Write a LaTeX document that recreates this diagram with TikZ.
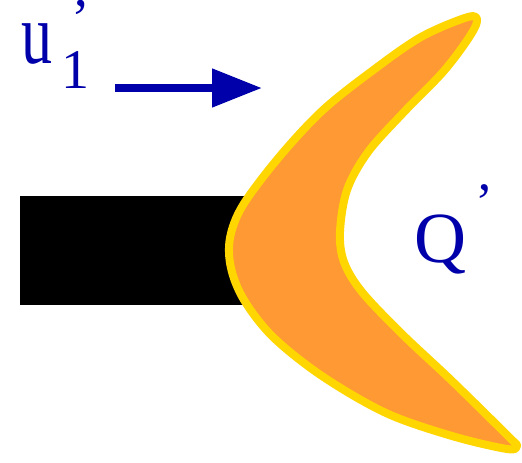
\documentclass[tikz,border=0pt]{standalone}
\usepackage{fontspec}
\setmainfont{Liberation Serif}
\usepackage{graphicx}
\usepackage{tikz}
\usetikzlibrary{arrows.meta}
\definecolor{cblue}{RGB}{0,0,170}
\definecolor{corange}{RGB}{255,153,51}
\definecolor{cgold}{RGB}{255,214,0}
\tikzset{
  lab/.style={inner sep=0pt,anchor=base west,text=cblue},
  body/.style={fill=black,draw=none},
  boomer/.style={fill=corange,draw=cgold,line width=8pt,line join=round},
  push/.style={draw=cblue,line width=8pt,-{Triangle[length=50pt,width=37pt]}}
}
\newcommand{\bigfs}[1]{\fontsize{#1}{#1}\selectfont}
\begin{document}
\begin{tikzpicture}[x=1pt,y=-1pt]
  \useasboundingbox (0,0) rectangle (522,463);
  % the block that pushes
  \node[body,minimum width=240pt,minimum height=109pt,inner sep=0pt,anchor=north west] (blk) at (20,196) {};
  % the boomerang Q'
  \draw[boomer] plot[smooth cycle,tension=0.55] coordinates {
    (477,21) (468,39) (443,72) (404,112) (368,152) (347,190) (340,232)
    (344,262) (362,292) (402,334) (451,380) (509,437) (517,446)
    (507,449) (452,436) (386,413) (322,376) (273,337) (244,300)
    (231,268) (230,238) (243,205) (280,156) (323,110) (372,71) (421,37) (468,17)};
  % velocity arrow
  \coordinate (a0) at (115,88);
  \coordinate (a1) at (262,88);
  \draw[push] (a0) -- (a1);
  \node[lab] (u) at (21,63) {\bigfs{62}\scalebox{1}[1.4]{u}\hspace{9pt}\bigfs{56}\rlap{\hspace{10pt}\raisebox{25pt}{’}}\raisebox{-25pt}{1}};
  \node[lab] (q) at (414.5,262) {\bigfs{72}Q\hspace{9pt}\bigfs{54}\raisebox{42pt}{’}};
\end{tikzpicture}
\end{document}
